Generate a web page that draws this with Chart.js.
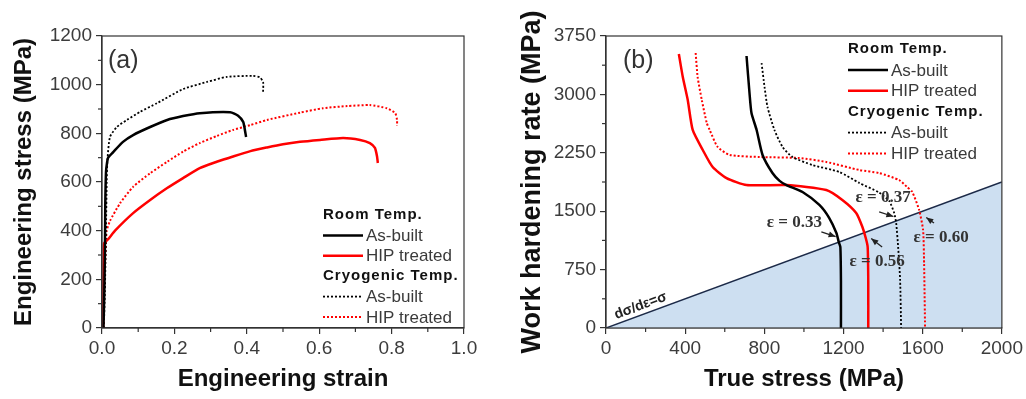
<!DOCTYPE html>
<html>
<head>
<meta charset="utf-8">
<script src="https://cdn.jsdelivr.net/npm/chart.js@4.4.0/dist/chart.umd.min.js"></script>
<style>
  html, body { margin: 0; padding: 0; background: #fff; }
  #wrap { position: relative; width: 1026px; height: 399px; }
  canvas { position: absolute; top: 0; }
</style>
</head>
<body>
<div id="wrap">
  <canvas id="chartA" width="513" height="399" style="left:0"></canvas>
  <canvas id="chartB" width="513" height="399" style="left:513px"></canvas>
</div>
<script>
// ---- (a) engineering stress vs strain ----
const strainRoomAsBuilt = [0.004, 0.006, 0.008, 0.009, 0.011, 0.014, 0.017, 0.031, 0.058, 0.086, 0.133, 0.18, 0.224, 0.27, 0.354, 0.376, 0.39, 0.394, 0.398];
const stressRoomAsBuilt = [0, 120, 300, 500, 640, 680, 700, 723, 765, 793, 826, 855, 871, 883, 887, 872, 847, 820, 785];
const strainRoomHIP = [0.003, 0.004, 0.005, 0.006, 0.017, 0.036, 0.086, 0.133, 0.18, 0.224, 0.27, 0.317, 0.362, 0.41, 0.456, 0.5, 0.547, 0.602, 0.666, 0.713, 0.74, 0.754, 0.76, 0.762];
const stressRoomHIP = [0, 150, 300, 349, 365, 400, 472, 526, 575, 616, 657, 683, 705, 727, 742, 755, 765, 773, 781, 773, 760, 740, 703, 678];
const strainCryoAsBuilt = [0.005, 0.008, 0.011, 0.013, 0.015, 0.022, 0.041, 0.069, 0.105, 0.152, 0.224, 0.29, 0.345, 0.417, 0.436, 0.445, 0.445];
const stressCryoAsBuilt = [0, 150, 400, 600, 690, 785, 826, 855, 888, 924, 982, 1011, 1032, 1036, 1030, 1011, 970];
const strainCryoHIP = [0.003, 0.006, 0.008, 0.011, 0.013, 0.022, 0.05, 0.086, 0.133, 0.18, 0.224, 0.27, 0.317, 0.362, 0.41, 0.456, 0.547, 0.61, 0.677, 0.74, 0.787, 0.81, 0.815, 0.815];
const stressCryoHIP = [0, 150, 250, 349, 400, 440, 513, 580, 636, 683, 725, 760, 789, 814, 834, 855, 885, 903, 912, 916, 903, 883, 855, 830];

// ---- (b) work hardening rate vs true stress ----
const trueRoomAsBuilt = [710, 725, 735, 761, 791, 841, 877, 912, 993, 1078, 1128, 1164, 1176, 1184, 1187, 1187];
const rateRoomAsBuilt = [3493, 3018, 2761, 2543, 2222, 1990, 1890, 1836, 1746, 1580, 1412, 1220, 1104, 1040, 600, 0];
const trueRoomHIP = [368, 388, 413, 438, 489, 539, 609, 710, 912, 1113, 1194, 1264, 1295, 1313, 1322, 1325, 1325];
const rateRoomHIP = [3519, 3223, 2928, 2543, 2286, 2067, 1926, 1836, 1836, 1772, 1644, 1477, 1300, 1150, 1040, 600, 0];
const trueCryoAsBuilt = [786, 801, 816, 851, 892, 942, 1043, 1179, 1280, 1380, 1431, 1456, 1466, 1476, 1486, 1491];
const rateCryoAsBuilt = [3403, 3095, 2838, 2543, 2325, 2196, 2093, 2003, 1862, 1740, 1630, 1477, 1348, 1040, 616, 0];
const trueCryoHIP = [453, 463, 484, 509, 524, 564, 625, 776, 977, 1113, 1280, 1380, 1481, 1521, 1547, 1582, 1602, 1607, 1612];
const rateCryoHIP = [3532, 3223, 2928, 2633, 2543, 2325, 2222, 2196, 2183, 2132, 2029, 1990, 1900, 1811, 1750, 1515, 1258, 835, 0];
const considereStress = [0, 2000];
const considereRate = [0, 1875];

// ticks
const minorStrain = [0.1, 0.3, 0.5, 0.7, 0.9];
const minorStress = [100, 300, 500, 700, 900, 1100];
const minorTrue = [200, 600, 1000, 1400, 1800];
const minorRate = [375, 1125, 1875, 2625, 3375];

const legendRows = [
    { header: 'Room Temp.' },
    { label: 'As-built', ds: 0 },
    { label: 'HIP treated', ds: 1 },
    { header: 'Cryogenic Temp.' },
    { label: 'As-built', ds: 2 },
    { label: 'HIP treated', ds: 3 }
];

Chart.defaults.font.family = '"Liberation Sans", Arial, sans-serif';

function pts(xs, ys) {
    return xs.map((v, i) => ({ x: v, y: ys[i] }));
}

function line(ctx, x1, y1, x2, y2) {
    ctx.beginPath();
    ctx.moveTo(x1, y1);
    ctx.lineTo(x2, y2);
    ctx.stroke();
}

// frame on all four sides plus the small minor ticks
const frameTicks = {
    id: 'frameTicks',
    afterDraw(chart, args, opts) {
        const { ctx, chartArea: a, scales: { x, y } } = chart;
        ctx.save();
        ctx.strokeStyle = '#333';
        ctx.lineWidth = 1.2;
        ctx.strokeRect(a.left, a.top, a.right - a.left, a.bottom - a.top);
        opts.xMinor.forEach(v => {
            const px = x.getPixelForValue(v);
            line(ctx, px, a.bottom, px, a.bottom + 4);
        });
        opts.yMinor.forEach(v => {
            const py = y.getPixelForValue(v);
            line(ctx, a.left - 4, py, a.left, py);
        });
        // panel label
        ctx.fillStyle = '#333';
        ctx.font = '25px "Liberation Sans", Arial, sans-serif';
        ctx.textBaseline = 'middle';
        ctx.fillText(opts.panel, a.left + opts.panelDx, a.top + 25);
        ctx.restore();
    }
};

// legend with group headers
const groupLegend = {
    id: 'groupLegend',
    afterDraw(chart, args, opts) {
        const ctx = chart.ctx;
        ctx.save();
        ctx.textBaseline = 'middle';
        legendRows.forEach((row, i) => {
            const y = opts.top + i * opts.step;
            if (row.header) {
                ctx.font = 'bold 15px "Liberation Sans", Arial, sans-serif';
                ctx.letterSpacing = '1px';
                ctx.fillStyle = '#111';
                ctx.fillText(row.header, opts.left, y);
                ctx.letterSpacing = '0px';
            } else {
                const ds = chart.data.datasets[row.ds];
                ctx.strokeStyle = ds.borderColor;
                ctx.lineWidth = ds.borderWidth;
                ctx.setLineDash(ds.borderDash || []);
                line(ctx, opts.left, y, opts.left + 40, y);
                ctx.setLineDash([]);
                ctx.font = '17px "Liberation Sans", Arial, sans-serif';
                ctx.fillStyle = '#3a3a3a';
                ctx.fillText(row.label, opts.left + 43, y + 1);
            }
        });
        ctx.restore();
    }
};

// strain labels with arrows, and the d(sigma)/d(eps)=sigma tag
const strainNotes = {
    id: 'strainNotes',
    afterDatasetsDraw(chart, args, opts) {
        const { ctx, scales: { x, y } } = chart;
        ctx.save();
        ctx.fillStyle = '#333';
        ctx.strokeStyle = '#222';
        ctx.textAlign = 'center';
        ctx.textBaseline = 'middle';
        opts.notes.forEach(n => {
            ctx.font = 'bold 17px "Liberation Serif", "Times New Roman", serif';
            ctx.fillText(n.text, x.getPixelForValue(n.at[0]), y.getPixelForValue(n.at[1]));
            const x1 = x.getPixelForValue(n.from[0]), y1 = y.getPixelForValue(n.from[1]);
            const x2 = x.getPixelForValue(n.to[0]), y2 = y.getPixelForValue(n.to[1]);
            ctx.lineWidth = 1.3;
            line(ctx, x1, y1, x2, y2);
            const ang = Math.atan2(y2 - y1, x2 - x1);
            ctx.beginPath();
            ctx.moveTo(x2, y2);
            ctx.lineTo(x2 - 7 * Math.cos(ang) + 3 * Math.sin(ang), y2 - 7 * Math.sin(ang) - 3 * Math.cos(ang));
            ctx.lineTo(x2 - 7 * Math.cos(ang) - 3 * Math.sin(ang), y2 - 7 * Math.sin(ang) + 3 * Math.cos(ang));
            ctx.closePath();
            ctx.fillStyle = '#222';
            ctx.fill();
            ctx.fillStyle = '#333';
        });
        // tag along the line
        const t = opts.tag;
        const px = x.getPixelForValue(t.at[0]), py = y.getPixelForValue(t.at[1]);
        const slope = Math.atan2(y.getPixelForValue(considereRate[1]) - y.getPixelForValue(considereRate[0]),
            x.getPixelForValue(considereStress[1]) - x.getPixelForValue(considereStress[0]));
        ctx.translate(px, py);
        ctx.rotate(slope);
        ctx.font = 'bold 14px "Liberation Sans", Arial, sans-serif';
        ctx.fillStyle = '#222';
        ctx.fillText(t.text, 0, 0);
        ctx.restore();
    }
};

function axisX(min, max, step, title, fmt) {
    return {
        type: 'linear', min: min, max: max,
        ticks: { stepSize: step, color: '#3c3c3c', font: { size: 19 }, maxRotation: 0, autoSkip: false, padding: 3, callback: fmt },
        grid: { drawOnChartArea: false, drawTicks: true, tickLength: 6, color: '#333', lineWidth: 1.2 },
        border: { display: true, color: '#333', width: 1.2 },
        title: { display: true, text: title, color: '#111', font: { size: 24, weight: 'bold' }, padding: { top: 0, bottom: 5 } },
        afterFit: s => { s.height = 71; }
    };
}

function axisY(min, max, step, title, titleSize, titlePad, width) {
    return {
        type: 'linear', min: min, max: max,
        ticks: { stepSize: step, color: '#3c3c3c', font: { size: 19 }, autoSkip: false, padding: 4, callback: v => String(v) },
        grid: { drawOnChartArea: false, drawTicks: true, tickLength: 6, color: '#333', lineWidth: 1.2 },
        border: { display: true, color: '#333', width: 1.2 },
        title: { display: true, text: title, color: '#111', font: { size: titleSize, weight: 'bold' }, padding: { top: titlePad, bottom: 0 } },
        afterFit: s => { s.width = width; }
    };
}

function curve(data, color, width, dash) {
    return {
        data: data, borderColor: color, borderWidth: width, borderDash: dash,
        pointRadius: 0, showLine: true, fill: false, tension: 0.2
    };
}

new Chart(document.getElementById('chartA'), {
    type: 'scatter',
    data: {
        datasets: [
            curve(pts(strainRoomAsBuilt, stressRoomAsBuilt), '#000', 2.5, []),
            curve(pts(strainRoomHIP, stressRoomHIP), '#ff0000', 2.5, []),
            curve(pts(strainCryoAsBuilt, stressCryoAsBuilt), '#000', 1.8, [2, 2]),
            curve(pts(strainCryoHIP, stressCryoHIP), '#ff0000', 2, [2, 2])
        ]
    },
    options: {
        responsive: false,
        animation: false,
        layout: { padding: { top: 36, right: 49, bottom: 0, left: 0 } },
        scales: {
            x: axisX(0, 1, 0.2, 'Engineering strain', v => v.toFixed(1)),
            y: axisY(0, 1200, 200, 'Engineering stress (MPa)', 24, 10, 102)
        },
        plugins: {
            legend: { display: false },
            tooltip: { enabled: false },
            frameTicks: { xMinor: minorStrain, yMinor: minorStress, panel: '(a)', panelDx: 6 },
            groupLegend: { left: 323, top: 215, step: 20.4 }
        }
    },
    plugins: [frameTicks, groupLegend]
});

new Chart(document.getElementById('chartB'), {
    type: 'scatter',
    data: {
        datasets: [
            curve(pts(trueRoomAsBuilt, rateRoomAsBuilt), '#000', 2.5, []),
            curve(pts(trueRoomHIP, rateRoomHIP), '#ff0000', 2.5, []),
            curve(pts(trueCryoAsBuilt, rateCryoAsBuilt), '#000', 1.8, [2, 2]),
            curve(pts(trueCryoHIP, rateCryoHIP), '#ff0000', 2, [2, 2]),
            {
                data: pts(considereStress, considereRate), borderColor: '#1c2a48', borderWidth: 1.5,
                backgroundColor: '#cddff1', fill: 'origin', pointRadius: 0, showLine: true, order: 10
            }
        ]
    },
    options: {
        responsive: false,
        animation: false,
        layout: { padding: { top: 36, right: 23, bottom: 0, left: 0 } },
        scales: {
            x: axisX(0, 2000, 400, 'True stress (MPa)', v => String(v)),
            y: axisY(0, 3750, 750, 'Work hardening rate (MPa)', 27, 3, 93)
        },
        plugins: {
            legend: { display: false },
            tooltip: { enabled: false },
            frameTicks: { xMinor: minorTrue, yMinor: minorRate, panel: '(b)', panelDx: 17 },
            groupLegend: { left: 335, top: 49, step: 20.9 },
            strainNotes: {
                notes: [
                    { text: 'ε = 0.33', at: [952, 1348], from: [1088, 1233], to: [1160, 1175] },
                    { text: 'ε = 0.56', at: [1370, 848], from: [1395, 1040], to: [1340, 1150] },
                    { text: 'ε = 0.37', at: [1400, 1670], from: [1380, 1490], to: [1452, 1432] },
                    { text: 'ε = 0.60', at: [1693, 1156], from: [1657, 1348], to: [1618, 1418] }
                ],
                tag: { text: 'dσ/dε=σ', at: [175, 285] }
            }
        }
    },
    plugins: [frameTicks, groupLegend, strainNotes]
});
</script>
</body>
</html>
